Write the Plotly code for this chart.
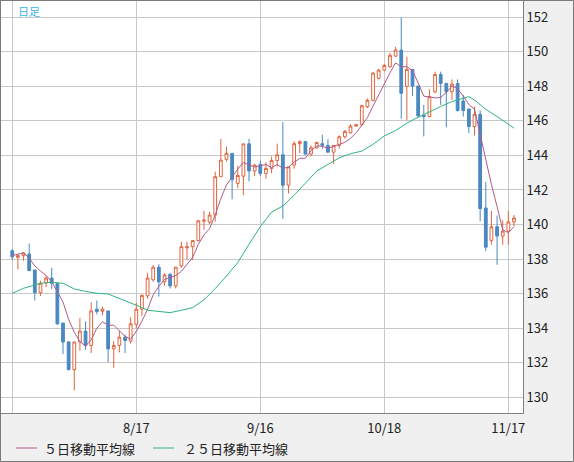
import plotly.graph_objects as go
import pandas as pd

dates = (["7/18","7/19","7/20","7/21","7/22","7/25","7/26","7/27","7/28","7/29"]
 + ["8/1","8/2","8/3","8/4","8/5","8/8","8/9","8/10","8/11","8/12","8/15","8/16","8/17","8/18","8/19",
    "8/22","8/23","8/24","8/25","8/26","8/29","8/30","8/31"]
 + ["9/1","9/2","9/5","9/6","9/7","9/8","9/9","9/12","9/13","9/14","9/15","9/16","9/19","9/20","9/21",
    "9/22","9/23","9/26","9/27","9/28","9/29","9/30"]
 + ["10/3","10/4","10/5","10/6","10/7","10/10","10/11","10/12","10/13","10/14","10/17","10/18","10/19",
    "10/20","10/21","10/24","10/25","10/26","10/27","10/28","10/31"]
 + ["11/1","11/2","11/3","11/4","11/7","11/8","11/9","11/10","11/11","11/14","11/15","11/16","11/17","11/18"])

open_ = [138.48,138.10,138.20,138.29,137.37,136.06,136.63,136.90,136.60,134.30,
         133.20,131.60,133.20,133.83,133.00,135.10,134.98,135.00,132.80,133.00,133.48,133.25,134.22,135.10,135.87,
         136.80,137.53,136.68,137.12,136.45,137.60,138.65,138.72,
         139.07,140.20,140.14,140.55,142.77,143.77,144.12,142.38,142.80,144.67,143.10,143.48,142.96,143.25,143.71,
         144.04,142.28,143.44,144.68,144.80,144.08,144.44,
         144.68,144.58,144.19,144.58,145.08,145.31,145.70,145.78,146.82,147.19,148.46,148.94,149.13,
         149.75,150.10,148.00,148.98,148.02,146.33,146.25,147.69,
         148.69,148.17,147.69,148.17,147.15,146.69,145.67,146.38,140.96,139.08,139.87,139.33,139.62,140.15]
high = [138.58,138.30,138.37,138.90,137.37,136.75,137.04,137.50,136.60,134.30,
        133.26,133.20,134.60,134.40,135.50,135.60,135.25,135.00,133.25,133.83,133.63,134.63,135.48,135.95,137.20,
        137.66,137.70,137.18,137.18,137.53,139.00,139.00,139.07,
        140.22,140.80,140.74,143.06,144.96,144.50,144.12,143.40,144.67,144.96,143.52,143.70,143.60,143.94,144.68,
        145.93,143.34,144.83,144.87,144.85,144.58,144.80,
        145.20,144.93,144.58,145.16,145.47,145.80,145.83,146.93,147.30,148.83,149.02,149.29,149.94,
        150.29,151.98,149.71,148.98,148.02,146.92,147.83,148.85,
        148.85,148.17,148.40,148.40,147.50,146.69,146.83,146.60,142.46,140.79,140.52,140.25,140.79,140.56]
low = [137.94,137.40,137.90,137.33,135.60,135.87,136.37,136.27,134.20,132.50,
       131.56,130.40,132.70,132.75,132.56,134.80,134.75,132.04,131.70,132.60,132.56,133.10,134.00,134.70,135.70,
       136.68,135.83,136.45,136.30,136.30,137.50,137.95,137.95,
       139.03,139.70,140.03,140.17,142.77,143.65,141.46,142.10,141.70,142.50,142.80,142.80,142.65,142.96,143.34,
       140.33,141.80,143.23,144.12,144.04,143.96,144.39,
       144.39,144.15,143.50,144.39,144.98,145.27,145.66,145.70,146.74,147.13,148.40,148.88,149.08,
       149.71,146.12,146.02,147.44,146.20,145.10,146.21,147.60,
       146.92,145.63,147.21,146.54,146.25,145.29,145.15,140.19,138.46,138.83,137.67,138.83,138.83,139.90]
close = [138.13,138.20,138.35,137.33,136.06,136.60,136.90,136.60,134.25,133.20,
         131.60,133.20,133.83,133.00,135.00,134.96,135.10,132.80,133.00,133.48,133.29,134.25,135.10,135.90,136.90,
         137.53,136.68,137.08,136.45,137.53,138.72,138.72,139.07,
         140.22,140.26,140.55,142.77,143.73,144.12,142.60,142.84,144.67,143.10,143.44,142.96,143.25,143.70,144.04,
         142.28,143.34,144.68,144.80,144.08,144.44,144.75,
         144.58,144.19,144.58,145.08,145.39,145.70,145.78,146.88,147.19,148.77,148.94,149.21,149.80,
         150.10,147.60,148.98,148.02,146.29,146.25,147.40,148.69,
         148.17,147.69,148.13,146.60,146.60,145.67,146.38,140.92,138.69,139.87,139.33,139.62,140.15,140.38]

# 5-day MA: first values, the rest is the rolling mean of closes
ma5_head = [138.20, 138.30, 138.37, 138.05]
ma5 = ma5_head + list(pd.Series(close).rolling(5).mean().iloc[4:].round(2))

ma25_idx = [0,2,5,7,9,11,13,15,17,19,21,22,24,26,28,30,32,34,36,38,40,42,44,46,48,50,52,54,
            56,58,60,62,64,66,68,70,72,74,76,78,80,81,82,84,86,88,89]
ma25 = [136.02,136.31,136.60,136.65,136.60,136.27,136.13,136.02,135.98,135.73,135.50,135.33,135.04,
        134.96,134.90,135.04,135.19,135.64,136.29,137.02,137.80,138.86,139.88,140.72,141.07,141.70,
        142.42,143.09,143.48,143.86,144.10,144.25,144.64,145.13,145.44,145.87,146.21,146.54,146.83,
        147.12,147.31,147.40,147.21,146.67,146.25,145.77,145.58]

tick_dates = ["7/18", "8/17", "9/16", "10/18", "11/17"]
tick_text = ["", "8/17", "9/16", "10/18", "11/17"]
y_ticks = list(range(130, 153, 2))

UP = "#e0643e"
DOWN = "#4a88c2"
C5 = "#b05a8c"
C25 = "#2eb47c"
FONT = "Noto Sans CJK JP, DejaVu Sans, sans-serif"

fig = go.Figure()
fig.add_trace(go.Candlestick(
    x=dates, open=open_, high=high, low=low, close=close,
    increasing=dict(line=dict(color=UP, width=1), fillcolor="white"),
    decreasing=dict(line=dict(color=DOWN, width=1), fillcolor=DOWN),
    whiskerwidth=0, showlegend=False, hoverinfo="skip"))
fig.add_trace(go.Scatter(x=dates, y=ma5, mode="lines",
                         line=dict(color=C5, width=1), showlegend=False, hoverinfo="skip"))
fig.add_trace(go.Scatter(x=[dates[i] for i in ma25_idx], y=ma25, mode="lines",
                         line=dict(color=C25, width=1), showlegend=False, hoverinfo="skip"))

W, H = 574, 462
L, T, R, B = 1, 1, 523, 413
def px(X):
    return (X - L) / (R - L)
def py(Y):
    return (B - Y) / (B - T)

shapes = [
    dict(type="rect", xref="paper", yref="paper", x0=px(0.5), x1=px(573.5), y0=py(0.5), y1=py(461.5),
         line=dict(color="#7a7a7a", width=1), fillcolor="rgba(0,0,0,0)", layer="above"),
    dict(type="line", xref="paper", yref="paper", x0=px(16), x1=px(37), y0=py(448), y1=py(448),
         line=dict(color=C5, width=1)),
    dict(type="line", xref="paper", yref="paper", x0=px(153), x1=px(174), y0=py(448), y1=py(448),
         line=dict(color=C25, width=1)),
]
annotations = [
    dict(text="日足", xref="paper", yref="paper", x=px(16), y=py(11), xanchor="left", yanchor="middle",
         showarrow=False, font=dict(family=FONT, size=11, color="#3bb4e8")),
    dict(text="５日移動平均線", xref="paper", yref="paper", x=px(42), y=py(448), xanchor="left",
         yanchor="middle", showarrow=False, font=dict(family=FONT, size=13, color="#222222")),
    dict(text="２５日移動平均線", xref="paper", yref="paper", x=px(182), y=py(448), xanchor="left",
         yanchor="middle", showarrow=False, font=dict(family=FONT, size=13, color="#222222")),
]

fig.update_layout(
    width=W, height=H,
    margin=dict(l=L, r=W - R, t=T, b=H - B, autoexpand=False),
    paper_bgcolor="#f0f0f0", plot_bgcolor="white",
    shapes=shapes, annotations=annotations,
    showlegend=False,
    xaxis=dict(type="category", range=[-2.0, 90.6], rangeslider=dict(visible=False),
               tickmode="array", tickvals=tick_dates, ticktext=tick_text, automargin=False,
               showgrid=True, gridcolor="#c8c8c8", gridwidth=1,
               showline=True, linecolor="#808080", linewidth=1, mirror=True,
               ticks="", tickfont=dict(family=FONT, size=13, color="#222222"),
               ticklabelstandoff=3, zeroline=False),
    yaxis=dict(side="right", range=[129.09, 152.94], tickmode="array", tickvals=y_ticks,
               automargin=False,
               showgrid=True, gridcolor="#c8c8c8", gridwidth=1,
               showline=True, linecolor="#808080", linewidth=1, mirror=True,
               ticks="", tickfont=dict(family=FONT, size=13, color="#222222"),
               zeroline=False),
)

fig.write_html("out.html", config={"displayModeBar": False},
               post_script="document.body.style.margin='0';document.body.style.overflow='hidden';")
